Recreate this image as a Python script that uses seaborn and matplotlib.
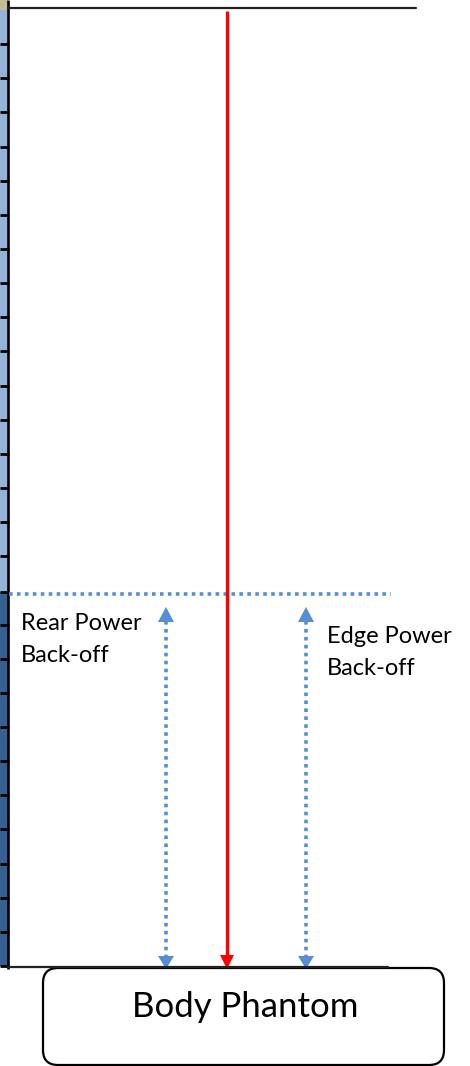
import matplotlib
matplotlib.use('Agg')
import matplotlib.pyplot as plt
import seaborn as sns
import numpy as np
import pandas as pd
from matplotlib.patches import FancyBboxPatch, Polygon

# dados do diagrama (em pixels da figura)
ruler_ticks = [10, 44, 78, 112, 147, 181, 215, 249, 283, 317, 351, 386, 420, 454,
               488, 522, 556, 592, 625, 659, 693, 727, 761, 795, 829, 864, 898, 932, 966]
ruler_split = 592          # onde o azul claro vira azul escuro
top_line_y = 8
bottom_line_y = 967
red_x = 227
backoff_y = 594
arrow_xs = [166, 306]
arrow_top = 607
labels = [['Rear Power', 'Back-off'], ['Edge Power', 'Back-off']]
label_xy = [(21, 630), (327, 643)]   # linha de base da primeira linha
phantom_label = 'Body Phantom'

sns.set_theme(style='white')
plt.rcParams['font.family'] = ['Lato', 'DejaVu Sans']

fig = plt.figure(figsize=(4.7, 10.66), dpi=100)
ax = fig.add_axes([0, 0, 1, 1])
ax.set_xlim(0, 470)
ax.set_ylim(1066, 0)
ax.axis('off')

# régua lateral
segs = pd.DataFrame({'start': ruler_ticks[:-1], 'end': ruler_ticks[1:]})
segs['cor'] = np.where(segs['start'] < ruler_split, '#95B3D7', '#366092')
ax.bar(0, ruler_ticks[0], bottom=0, width=7.5, align='edge', color='#C4BD97', lw=0)
ax.bar(np.zeros(len(segs)), segs['end'] - segs['start'], bottom=segs['start'],
       width=7.5, align='edge', color=segs['cor'], lw=0)
for t in ruler_ticks[1:]:
    ax.plot([0, 9], [t, t], color='black', lw=2.0, solid_capstyle='butt')
ax.plot([8, 8], [0, ruler_ticks[-1] + 3], color='black', lw=1.9, solid_capstyle='butt')

# linhas horizontais
ax.plot([8, 416], [top_line_y, top_line_y], color='#222222', lw=1.6)
ax.plot([8, 388], [bottom_line_y, bottom_line_y], color='#222222', lw=1.6)

# linha pontilhada de back-off
sns.lineplot(x=[9, 391], y=[backoff_y, backoff_y], ax=ax, color='#558ED5',
             lw=2.6, dashes=(1, 1.2), estimator=None)
ax.lines[-1].set_dash_capstyle('butt')

# seta vermelha
ax.plot([red_x, red_x], [11, 956], color='#FF0000', lw=2.4, solid_capstyle='butt')
ax.add_patch(Polygon([[red_x - 7, 955], [red_x + 7, 955], [red_x, 969]],
                     closed=True, color='#FF0000', lw=0))

# setas azuis duplas
for x in arrow_xs:
    ln, = ax.plot([x, x], [arrow_top + 14, bottom_line_y - 11], color='#558ED5', lw=2.6,
                  dashes=(1, 1.2))
    ln.set_dash_capstyle('butt')
    ax.add_patch(Polygon([[x - 8, arrow_top + 15], [x + 8, arrow_top + 15], [x, arrow_top]],
                         closed=True, color='#558ED5', lw=0))
    ax.add_patch(Polygon([[x - 8, bottom_line_y - 11], [x + 8, bottom_line_y - 11], [x, bottom_line_y + 2]],
                         closed=True, color='#558ED5', lw=0))

for linhas, (x, y) in zip(labels, label_xy):
    for i, txt in enumerate(linhas):
        ax.text(x, y + 32 * i, txt, fontsize=17, color='black', ha='left', va='baseline')

# caixa do phantom
box = FancyBboxPatch((43, 968), 401, 97, boxstyle='round,pad=0,rounding_size=15',
                     fc='white', ec='black', lw=1.6)
ax.add_patch(box)
ax.text(245, 1017, phantom_label, fontsize=25, color='black', ha='center', va='baseline')

fig.savefig('out.png', dpi=100)
plt.close(fig)
